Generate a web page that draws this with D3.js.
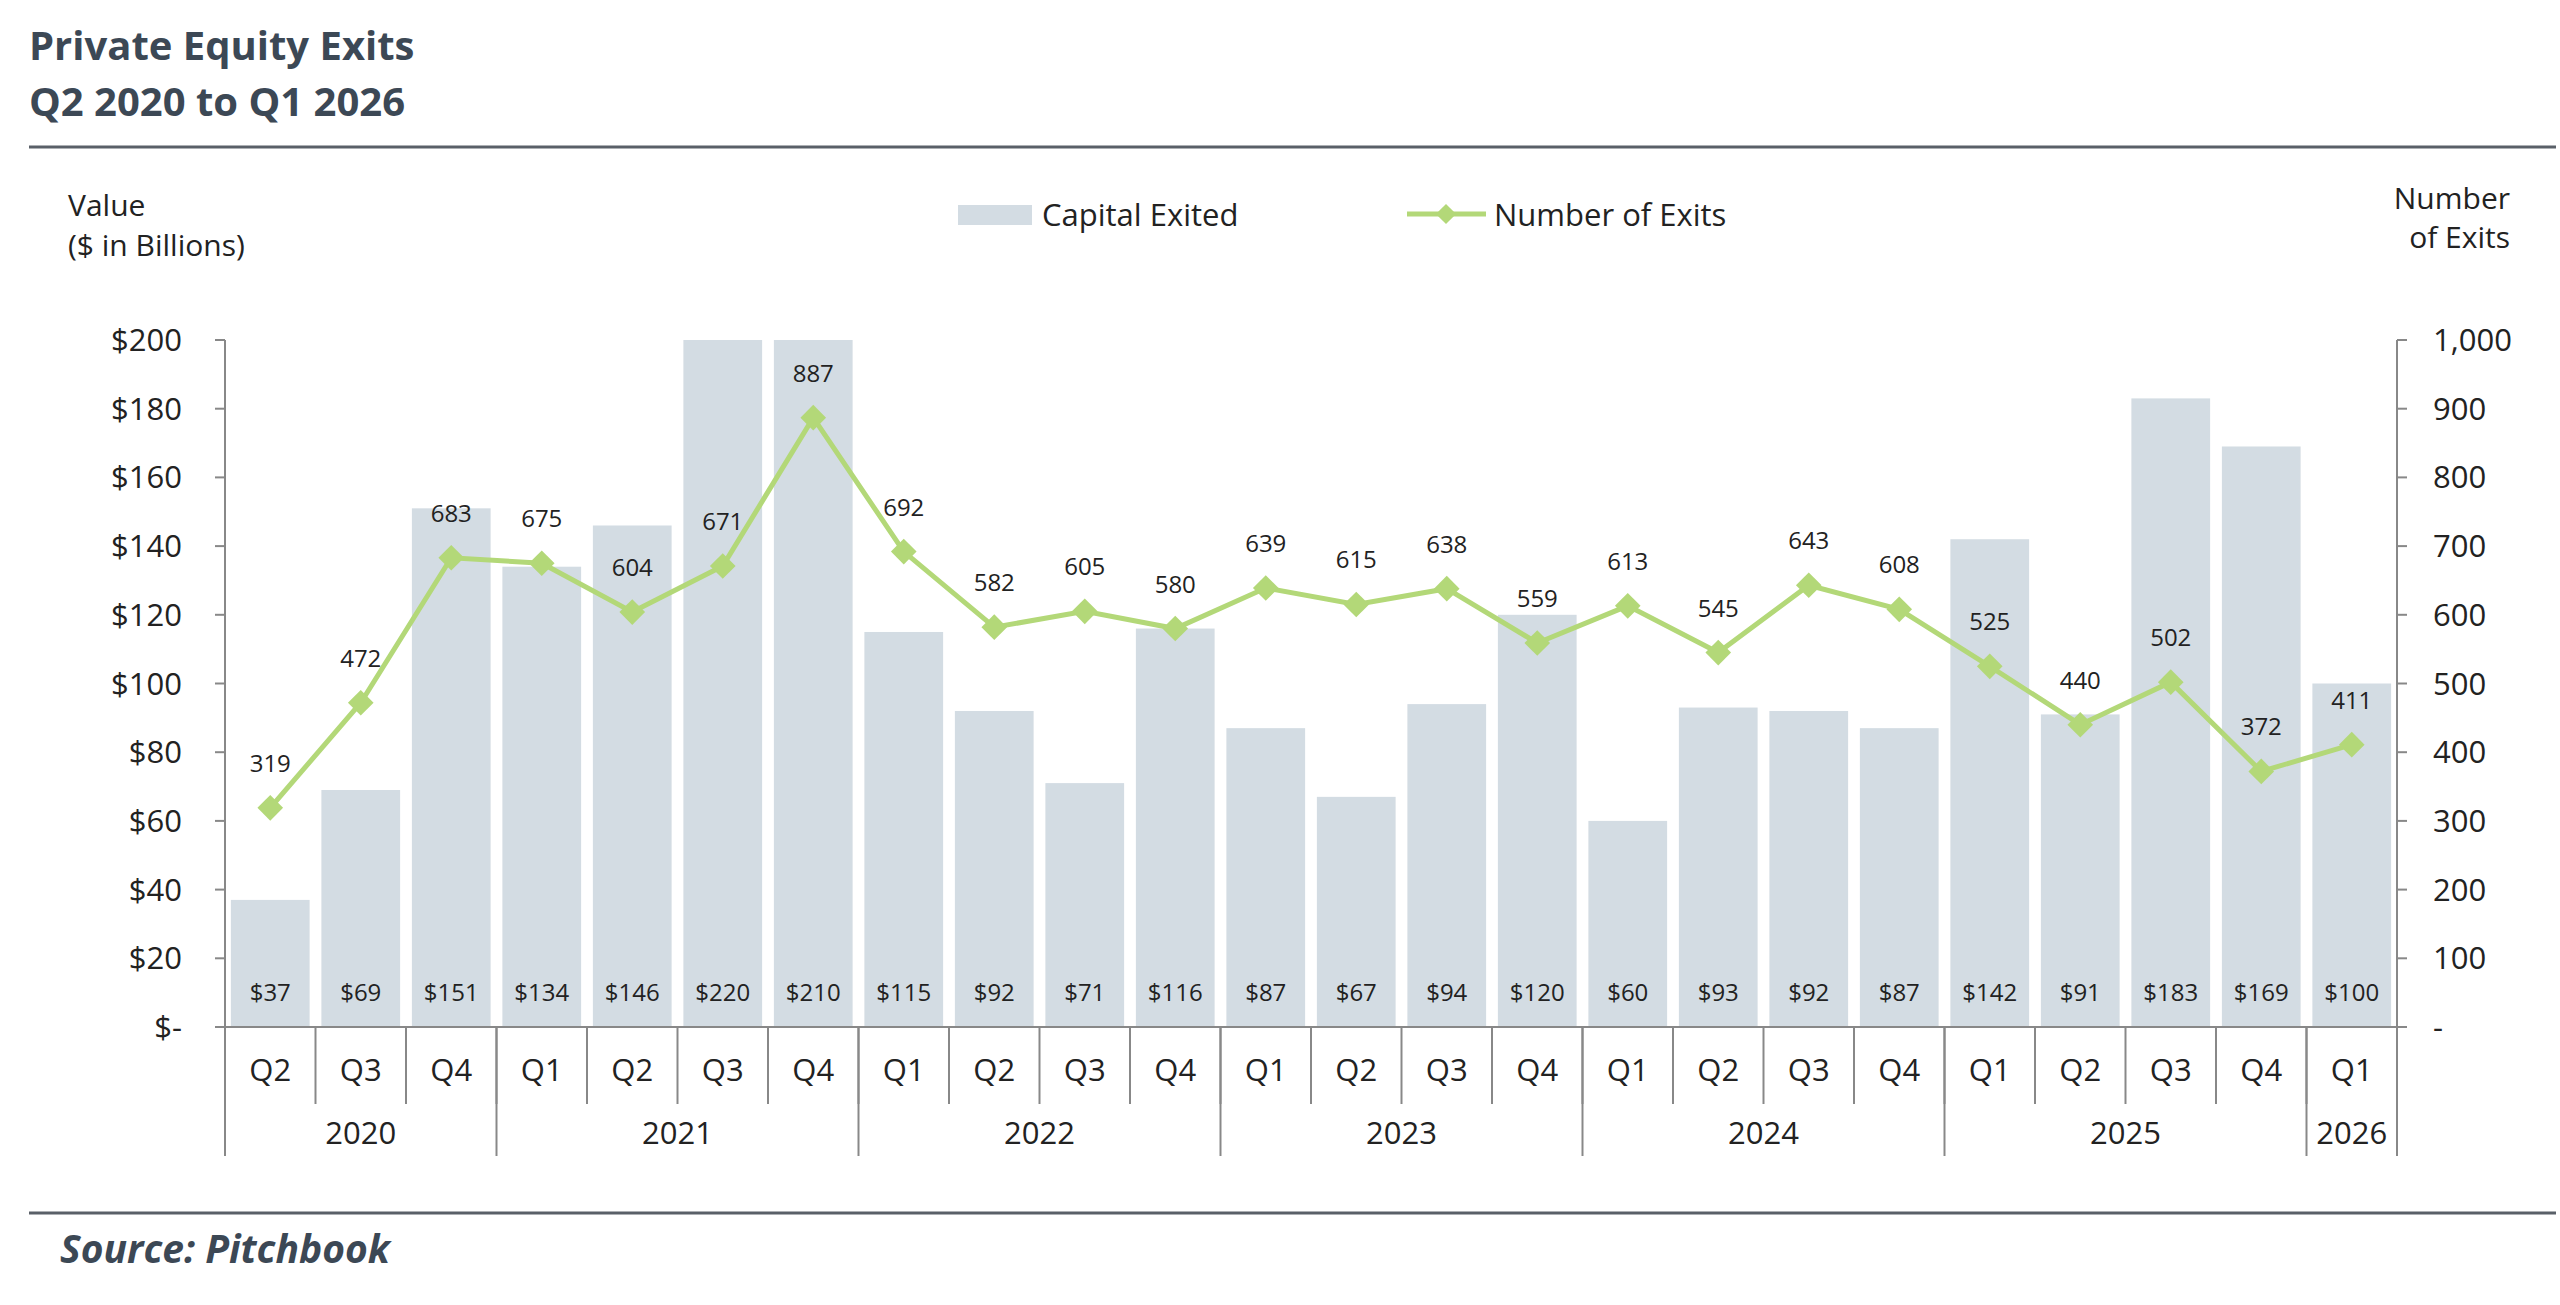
<!DOCTYPE html>
<html><head><meta charset="utf-8">
<script src="https://cdn.jsdelivr.net/npm/d3@7"></script>
<style>body{margin:0;background:#fff;} text{font-family:"Open Sans",Lato,sans-serif;}</style>
</head><body><svg id="c" width="2560" height="1305"></svg>
<script>
// data
var quarters = ["Q2","Q3","Q4","Q1","Q2","Q3","Q4","Q1","Q2","Q3","Q4","Q1","Q2","Q3","Q4","Q1","Q2","Q3","Q4","Q1","Q2","Q3","Q4","Q1"];
var years = [["2020",3],["2021",4],["2022",4],["2023",4],["2024",4],["2025",4],["2026",1]];
var capital = [37,69,151,134,146,220,210,115,92,71,116,87,67,94,120,60,93,92,87,142,91,183,169,100];
var exits = [319,472,683,675,604,671,887,692,582,605,580,639,615,638,559,613,545,643,608,525,440,502,372,411];
var yTicks = [0,20,40,60,80,100,120,140,160,180,200];
var y2Ticks = [0,100,200,300,400,500,600,700,800,900,1000];

var dark = "#3c4855", barC = "#d3dce3", green = "#b3d878";
var svg = d3.select("#c");
var L = 225, R = 2397, T = 340, B = 1027;
var ids = d3.range(quarters.length);
var x = d3.scaleBand().domain(ids).range([L, R]).paddingInner(0.13).paddingOuter(0.065);
var step = (R - L) / quarters.length;
var y = d3.scaleLinear().domain([0, 200]).range([B, T]);
var y2 = d3.scaleLinear().domain([0, 1000]).range([B, T]);

// titles
svg.append("text").attr("x", 29).attr("y", 60).attr("font-size", 40).attr("font-weight", 700).attr("fill", dark).text("Private Equity Exits");
svg.append("text").attr("x", 29).attr("y", 116).attr("font-size", 40).attr("font-weight", 700).attr("fill", dark).text("Q2 2020 to Q1 2026");
svg.append("line").attr("x1", 29).attr("x2", 2556).attr("y1", 147).attr("y2", 147).attr("stroke", "#5a6068").attr("stroke-width", 3);
svg.append("line").attr("x1", 29).attr("x2", 2556).attr("y1", 1213).attr("y2", 1213).attr("stroke", "#5a6068").attr("stroke-width", 3);
svg.append("text").attr("x", 60).attr("y", 1263).attr("font-size", 39).attr("font-weight", 700).attr("font-style", "italic").attr("fill", dark).text("Source: Pitchbook");

// axis titles
svg.append("text").attr("x", 68).attr("y", 216).attr("font-size", 30).attr("fill", "#222").text("Value");
svg.append("text").attr("x", 68).attr("y", 256).attr("font-size", 30).attr("fill", "#222").text("($ in Billions)");
svg.append("text").attr("x", 2510).attr("y", 209).attr("font-size", 30).attr("fill", "#222").attr("text-anchor", "end").text("Number");
svg.append("text").attr("x", 2510).attr("y", 248).attr("font-size", 30).attr("fill", "#222").attr("text-anchor", "end").text("of Exits");

// legend
svg.append("rect").attr("x", 958).attr("y", 205).attr("width", 74).attr("height", 20).attr("fill", barC);
svg.append("text").attr("x", 1042).attr("y", 226).attr("font-size", 31).attr("fill", "#222").text("Capital Exited");
svg.append("line").attr("x1", 1407).attr("x2", 1486).attr("y1", 214).attr("y2", 214).attr("stroke", green).attr("stroke-width", 5);
svg.append("path").attr("d", d3.symbol(d3.symbolDiamond2, 260)()).attr("transform", "translate(1446,214)").attr("fill", green);
svg.append("text").attr("x", 1494).attr("y", 226).attr("font-size", 31).attr("fill", "#222").text("Number of Exits");

// bars
svg.selectAll(".bar").data(ids).enter().append("rect")
    .attr("x", function(i) { return x(i); })
    .attr("width", x.bandwidth())
    .attr("y", function(i) { return y(Math.min(capital[i], 200)); })
    .attr("height", function(i) { return B - y(Math.min(capital[i], 200)); })
    .attr("fill", barC);
svg.selectAll(".blab").data(ids).enter().append("text")
    .attr("x", function(i) { return x(i) + x.bandwidth() / 2; })
    .attr("y", 1001).attr("text-anchor", "middle").attr("font-size", 24).attr("fill", "#222")
    .text(function(i) { return "$" + capital[i]; });

// left axis
var ax = svg.append("g");
ax.append("line").attr("x1", L).attr("x2", L).attr("y1", T).attr("y2", B).attr("stroke", "#888").attr("stroke-width", 2);
yTicks.forEach(function(t) {
    ax.append("line").attr("x1", L - 10).attr("x2", L).attr("y1", y(t)).attr("y2", y(t)).attr("stroke", "#888").attr("stroke-width", 2);
    ax.append("text").attr("x", 182).attr("y", y(t) + 11).attr("text-anchor", "end").attr("font-size", 31).attr("fill", "#222")
        .text(t == 0 ? "$-" : "$" + t);
});
// right axis
ax.append("line").attr("x1", R).attr("x2", R).attr("y1", T).attr("y2", B).attr("stroke", "#888").attr("stroke-width", 2);
y2Ticks.forEach(function(t) {
    ax.append("line").attr("x1", R).attr("x2", R + 10).attr("y1", y2(t)).attr("y2", y2(t)).attr("stroke", "#888").attr("stroke-width", 2);
    ax.append("text").attr("x", 2433).attr("y", y2(t) + 11).attr("font-size", 31).attr("fill", "#222")
        .text(t == 0 ? "-" : d3.format(",")(t));
});

// bottom category axis
ax.append("line").attr("x1", L).attr("x2", R).attr("y1", B).attr("y2", B).attr("stroke", "#888").attr("stroke-width", 2);
ids.forEach(function(i) {
    ax.append("text").attr("x", L + step * (i + 0.5)).attr("y", 1081).attr("text-anchor", "middle").attr("font-size", 31).attr("fill", "#222").text(quarters[i]);
    if (i > 0) ax.append("line").attr("x1", L + step * i).attr("x2", L + step * i).attr("y1", B).attr("y2", 1104).attr("stroke", "#888").attr("stroke-width", 2);
});
var acc = 0;
years.forEach(function(yv) {
    ax.append("line").attr("x1", L + step * acc).attr("x2", L + step * acc).attr("y1", B).attr("y2", 1156).attr("stroke", "#888").attr("stroke-width", 2);
    ax.append("text").attr("x", L + step * (acc + yv[1] / 2)).attr("y", 1144).attr("text-anchor", "middle").attr("font-size", 31).attr("fill", "#222").text(yv[0]);
    acc += yv[1];
});
ax.append("line").attr("x1", R).attr("x2", R).attr("y1", B).attr("y2", 1156).attr("stroke", "#888").attr("stroke-width", 2);

// line
var cx = function(i) { return x(i) + x.bandwidth() / 2; };
svg.append("path").datum(ids)
    .attr("d", d3.line().x(cx).y(function(i) { return y2(exits[i]); }))
    .attr("fill", "none").attr("stroke", green).attr("stroke-width", 5);
svg.selectAll(".pt").data(ids).enter().append("path")
    .attr("d", d3.symbol(d3.symbolDiamond2, 420)())
    .attr("transform", function(i) { return "translate(" + cx(i) + "," + y2(exits[i]) + ")"; })
    .attr("fill", green);
svg.selectAll(".plab").data(ids).enter().append("text")
    .attr("x", cx).attr("y", function(i) { return y2(exits[i]) - 36; })
    .attr("text-anchor", "middle").attr("font-size", 24).attr("fill", "#222")
    .text(function(i) { return exits[i]; });
</script></body></html>
